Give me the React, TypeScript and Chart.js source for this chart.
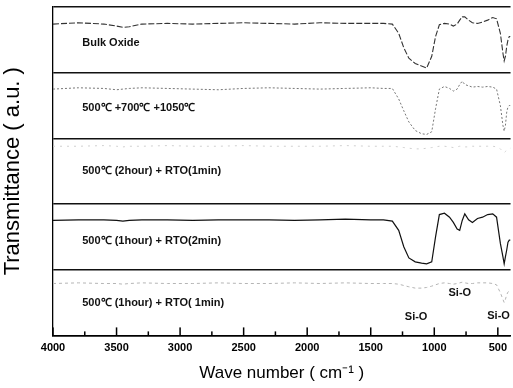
import React, { useEffect, useRef } from "react";
import { Chart, registerables } from "chart.js";

Chart.register(...registerables);

const wavenumbers = [4000, 3800, 3600, 3500, 3450, 3400, 3300, 3100, 2900, 2700, 2500, 2300, 2100, 1900, 1700, 1500, 1400, 1330, 1280, 1240, 1200, 1150, 1100, 1060, 1020, 990, 960, 920, 880, 850, 820, 800, 780, 760, 730, 700, 660, 620, 580, 540, 510, 480, 460, 450, 440, 430, 420, 410, 400];

const bulkOxide = [0.74, 0.76, 0.74, 0.71, 0.69, 0.70, 0.74, 0.75, 0.74, 0.75, 0.76, 0.75, 0.74, 0.76, 0.75, 0.75, 0.75, 0.74, 0.6, 0.38, 0.22, 0.14, 0.1, 0.07, 0.25, 0.55, 0.73, 0.75, 0.74, 0.71, 0.74, 0.8, 0.85, 0.85, 0.8, 0.76, 0.75, 0.77, 0.8, 0.84, 0.82, 0.6, 0.3, 0.18, 0.25, 0.4, 0.5, 0.55, 0.55];
const threeStep = [0.75, 0.77, 0.76, 0.74, 0.75, 0.76, 0.77, 0.76, 0.75, 0.74, 0.76, 0.77, 0.76, 0.75, 0.76, 0.77, 0.76, 0.76, 0.6, 0.42, 0.25, 0.12, 0.07, 0.06, 0.1, 0.45, 0.75, 0.79, 0.76, 0.72, 0.75, 0.82, 0.87, 0.82, 0.8, 0.78, 0.79, 0.78, 0.79, 0.78, 0.75, 0.5, 0.2, 0.11, 0.2, 0.4, 0.48, 0.5, 0.5];
const twoHourRto1 = [0.88, 0.88, 0.89, 0.88, 0.87, 0.88, 0.88, 0.89, 0.88, 0.88, 0.89, 0.88, 0.88, 0.88, 0.89, 0.88, 0.88, 0.88, 0.87, 0.86, 0.85, 0.84, 0.84, 0.85, 0.86, 0.87, 0.88, 0.88, 0.87, 0.86, 0.87, 0.88, 0.88, 0.87, 0.87, 0.88, 0.88, 0.88, 0.88, 0.88, 0.87, 0.84, 0.8, 0.78, 0.8, 0.83, 0.84, 0.85, 0.85];
const oneHourRto2 = [0.75, 0.76, 0.76, 0.75, 0.74, 0.75, 0.76, 0.76, 0.75, 0.76, 0.76, 0.76, 0.75, 0.76, 0.77, 0.76, 0.76, 0.74, 0.6, 0.35, 0.18, 0.12, 0.1, 0.09, 0.12, 0.5, 0.84, 0.86, 0.8, 0.72, 0.62, 0.6, 0.75, 0.85, 0.76, 0.72, 0.78, 0.8, 0.84, 0.85, 0.8, 0.4, 0.2, 0.09, 0.2, 0.3, 0.42, 0.45, 0.45];
const oneHourRto1 = [0.79, 0.8, 0.79, 0.79, 0.78, 0.79, 0.8, 0.79, 0.79, 0.8, 0.79, 0.79, 0.8, 0.79, 0.8, 0.79, 0.79, 0.79, 0.78, 0.76, 0.74, 0.72, 0.72, 0.73, 0.75, 0.77, 0.79, 0.8, 0.79, 0.78, 0.79, 0.8, 0.81, 0.8, 0.79, 0.79, 0.8, 0.8, 0.8, 0.79, 0.77, 0.65, 0.55, 0.5, 0.55, 0.62, 0.66, 0.68, 0.68];

const sampleLabels = ["500℃ (1hour) + RTO( 1min)", "500℃ (1hour) + RTO(2min)", "500℃ (2hour) + RTO(1min)", "500℃ +700℃ +1050℃", "Bulk Oxide"];
const panelLabelY = [0.49, 0.44, 0.5, 0.46, 0.45];
const xTickValues = [4000, 3500, 3000, 2500, 2000, 1500, 1000, 500];
const xMinorTicks = [3750, 3250, 2750, 2250, 1750, 1250, 750];
const panelLines = [0, 1, 2, 3, 4, 5];
const bondLabels = ["Si-O", "Si-O", "Si-O"];
const bondX = [1143, 799, 494];
const bondY = [0.28, 0.64, 0.3];

const seriesValues = [oneHourRto1, oneHourRto2, twoHourRto1, threeStep, bulkOxide];
const seriesStyle = [
  { color: "#b5b5b5", width: 1, dash: [3, 3] },
  { color: "#111111", width: 1.2, dash: [] },
  { color: "#d0d0d0", width: 1, dash: [2, 5] },
  { color: "#777777", width: 1, dash: [2, 2] },
  { color: "#333333", width: 1.1, dash: [6, 2] },
];

const FONT = "Arial, 'Liberation Sans', sans-serif";

const overlayPlugin = {
  id: "overlay",
  afterDraw(chart: any) {
    const ctx = chart.ctx;
    const xs = chart.scales.x;
    const ys = chart.scales.y;
    const bottom = ys.getPixelForValue(0);
    ctx.save();
    ctx.setLineDash([]);
    ctx.fillStyle = "#000000";
    xTickValues.forEach((v) => {
      const px = xs.getPixelForValue(v);
      ctx.fillRect(px - 0.75, bottom - 8, 1.5, 8);
    });
    xMinorTicks.forEach((v) => {
      const px = xs.getPixelForValue(v);
      ctx.fillRect(px - 0.75, bottom - 4, 1.5, 4);
    });
    ctx.fillStyle = "#111";
    ctx.font = "bold 11px " + FONT;
    ctx.textAlign = "left";
    ctx.textBaseline = "middle";
    sampleLabels.forEach((t, i) => {
      ctx.fillText(t, xs.getPixelForValue(3770), ys.getPixelForValue(i + panelLabelY[i]));
    });
    ctx.textAlign = "center";
    bondLabels.forEach((t, i) => {
      ctx.fillText(t, xs.getPixelForValue(bondX[i]), ys.getPixelForValue(bondY[i]));
    });
    ctx.restore();
  },
};

export default function App() {
  const ref = useRef<HTMLCanvasElement>(null);
  useEffect(() => {
    if (!ref.current) return;
    const datasets = seriesValues.map((vals, i) => ({
      label: sampleLabels[i],
      data: vals.map((v, j) => ({ x: wavenumbers[j], y: i + v })),
      showLine: true,
      pointRadius: 0,
      borderColor: seriesStyle[i].color,
      borderWidth: seriesStyle[i].width,
      borderDash: seriesStyle[i].dash,
      tension: 0,
    }));
    const chart = new Chart(ref.current, {
      type: "scatter",
      data: { datasets },
      options: {
        animation: false,
        responsive: false,
        layout: { padding: { left: 0, top: 7, right: 0, bottom: 4 } },
        plugins: { legend: { display: false }, tooltip: { enabled: false } },
        scales: {
          x: {
            type: "linear",
            min: 400,
            max: 4000,
            reverse: true,
            afterBuildTicks: (s: any) => {
              s.ticks = xTickValues.map((v) => ({ value: v }));
            },
            grid: { display: false, drawTicks: false },
            border: { display: true, color: "#000", width: 1.6 },
            ticks: {
              color: "#000",
              font: { family: FONT, size: 11, weight: "bold" },
              padding: 6,
              maxRotation: 0,
              autoSkip: false,
              callback: (v: any) => String(v),
            },
            title: { display: true, text: "Wave number ( cm⁻¹ )", color: "#000", font: { family: FONT, size: 17 }, padding: { top: 3, bottom: 0 } },
          },
          y: {
            min: 0,
            max: 5,
            afterBuildTicks: (s: any) => {
              s.ticks = panelLines.map((v) => ({ value: v }));
            },
            ticks: { display: false },
            grid: { display: true, color: "#111", lineWidth: 1.6, drawTicks: false },
            border: { display: true, color: "#000", width: 1.3 },
            title: { display: true, text: "Transmittance ( a.u. )", color: "#000", font: { family: FONT, size: 22 }, padding: { top: 0, bottom: 26.6 } },
          },
        },
      },
      plugins: [overlayPlugin],
    });
    return () => chart.destroy();
  }, []);
  return (
    <div style={{ position: "fixed", left: 0, top: 0, width: 513, height: 388, background: "#fff" }}>
      <canvas ref={ref} width={513} height={388} />
    </div>
  );
}
